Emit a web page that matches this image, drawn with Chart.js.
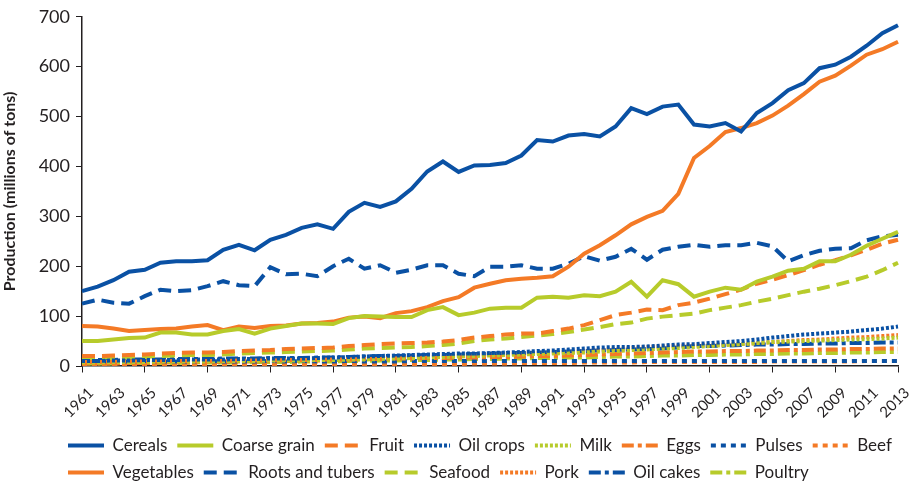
<!DOCTYPE html>
<html>
<head>
<meta charset="utf-8">
<script src="https://cdn.jsdelivr.net/npm/chart.js@4"></script>
<style>
  html, body { margin: 0; padding: 0; background: #fff; }
  #wrap { width: 914px; height: 485px; }
</style>
</head>
<body>
<div id="wrap"><canvas id="prodChart" width="914" height="485"></canvas></div>
<script>
// Años 1961-2013
const years = [];
for (let y = 1961; y <= 2013; y++) years.push(String(y));

const yTicks = [0, 100, 200, 300, 400, 500, 600, 700];

// Valores (millones de toneladas)
const cereals = [150,159,172,189,193,207,210,210,212,233,243,232,253,263,277,284,275,309,327,319,
  330,355,390,410,389,402,403,407,422,453,450,462,465,460,480,517,505,520,524,484,
  480,487,470,507,527,553,567,597,604,620,642,667,683];
const coarseGrain = [50,50,53,56,57,67,67,63,63,70,74,65,75,80,85,85,84,96,100,99,
  98,98,112,118,102,107,115,117,117,137,139,137,142,140,149,169,139,172,164,139,
  149,157,153,169,179,191,195,210,210,223,241,255,269];
const fruit = [20,20,21,22,23,25,26,27,27,28,30,31,32,34,35,36,37,40,42,44,
  45,46,47,49,52,57,60,63,65,65,70,75,82,92,102,107,113,112,122,127,
  135,144,153,165,173,182,192,203,212,222,233,245,253];
const oilCrops = [10,10,11,11,12,12,12,13,13,13,14,14,15,15,15,16,17,18,19,20,
  21,22,23,24,25,25,26,27,28,30,31,33,35,37,38,38,39,41,43,44,
  46,48,50,53,57,60,63,65,67,69,72,75,79];
const milk = [7,7,8,8,8,9,9,9,9,10,10,10,11,11,11,12,12,13,13,14,
  15,16,17,18,19,20,21,22,23,24,25,26,27,29,30,32,33,35,36,38,
  40,42,44,46,48,49,50,51,52,53,54,55,57];
const eggs = [8,8,8,9,9,9,10,10,10,10,11,11,11,12,12,12,13,13,14,14,
  15,15,16,16,17,17,18,18,19,20,20,21,22,23,24,25,26,27,28,29,
  29,30,30,31,31,32,32,33,33,34,34,35,35];
const pulses = [10,10,9,9,10,9,9,9,10,9,9,9,10,9,10,9,9,10,9,9,
  9,10,10,10,10,10,10,10,10,10,10,10,10,10,10,10,10,10,10,10,
  10,10,10,10,10,10,10,10,10,10,10,10,10];
const beef = [2,2,2,2,2,3,3,3,3,3,3,3,3,3,3,3,3,3,3,4,
  4,4,4,4,4,5,5,5,6,6,6,6,7,7,7,7,8,8,8,8,
  8,8,8,8,9,9,9,9,9,9,10,10,10];
const vegetables = [80,79,75,70,72,74,75,79,82,72,79,76,80,81,85,86,89,97,99,96,
  106,110,118,130,138,157,165,172,175,177,180,199,225,242,262,284,299,311,345,417,
  441,469,477,487,502,522,545,570,582,602,624,635,650];
const rootsTubers = [125,133,127,125,140,153,150,152,160,170,162,160,198,184,185,180,200,215,195,202,
  187,193,202,202,185,180,199,199,202,195,195,205,220,211,219,235,213,233,239,243,
  239,242,242,247,240,210,222,231,235,236,252,260,263];
const seafood = [14,15,16,17,18,20,21,22,22,23,25,26,27,28,29,30,31,33,35,36,
  37,38,40,42,45,50,53,55,58,61,64,68,73,78,84,87,95,99,102,105,
  112,117,122,129,135,142,149,155,162,170,179,192,207];
const pork = [5,5,5,6,6,7,7,7,8,8,9,9,10,10,11,11,12,13,14,15,
  16,17,18,19,20,21,23,24,25,26,27,28,30,32,34,36,38,39,40,41,
  42,43,44,46,48,50,52,53,55,57,58,60,62];
const oilCakes = [12,12,12,13,13,13,14,14,14,15,15,15,16,16,16,17,17,18,19,20,
  20,21,22,22,23,24,25,26,26,27,28,29,30,31,32,33,34,35,37,40,
  40,41,42,43,43,44,44,45,45,46,46,47,47];
const poultry = [5,5,5,6,6,6,6,7,7,7,7,8,8,8,9,9,9,10,10,11,
  11,12,12,13,13,14,14,15,15,16,16,17,17,18,19,19,20,21,21,22,
  22,23,23,24,24,25,25,26,26,27,27,28,28];

const BLUE = '#0a51a4';
const GREEN = '#b7cb2b';
const ORANGE = '#f47a26';
const TEXT = '#231f20';

function serie(label, data, color, dash) {
    return {
        label: label,
        data: data,
        borderColor: color,
        backgroundColor: color,
        borderWidth: 4,
        borderDash: dash,
        pointRadius: 0,
        tension: 0,
        fill: false
    };
}

const SOLID = [];
const LONG = [13, 7];
const DOT = [3, 2];
const DASHDOT = [12, 4, 4, 4];
const SHORT = [5, 5];

const datasets = [
    serie('Cereals', cereals, BLUE, SOLID),
    serie('Coarse grain', coarseGrain, GREEN, SOLID),
    serie('Fruit', fruit, ORANGE, LONG),
    serie('Oil crops', oilCrops, BLUE, DOT),
    serie('Milk', milk, GREEN, DOT),
    serie('Eggs', eggs, ORANGE, DASHDOT),
    serie('Pulses', pulses, BLUE, SHORT),
    serie('Beef', beef, ORANGE, SHORT),
    serie('Vegetables', vegetables, ORANGE, SOLID),
    serie('Roots and tubers', rootsTubers, BLUE, LONG),
    serie('Seafood', seafood, GREEN, LONG),
    serie('Pork', pork, ORANGE, DOT),
    serie('Oil cakes', oilCakes, BLUE, DASHDOT),
    serie('Poultry', poultry, GREEN, DASHDOT)
];

// mover la leyenda (derecha y abajo) como en el original
const legendShift = {
    id: 'legendShift',
    afterLayout(chart) {
        chart.legend.left += 58;
        chart.legend.right += 58;
        chart.legend.top += 6;
        chart.legend.bottom += 6;
    }
};

const ctx = document.getElementById('prodChart').getContext('2d');
new Chart(ctx, {
    type: 'line',
    data: { labels: years, datasets: datasets },
    plugins: [legendShift],
    options: {
        responsive: false,
        animation: false,
        layout: { padding: { top: 16, right: 16, left: 0, bottom: 0 } },
        font: { family: 'Lato' },
        plugins: {
            tooltip: { enabled: false },
            legend: {
                position: 'bottom',
                align: 'start',
                labels: {
                    usePointStyle: true,
                    pointStyle: 'line',
                    pointStyleWidth: 36,
                    padding: 10,
                    color: TEXT,
                    font: { family: 'Lato', size: 17 },
                    // la leyenda debe mostrar el trazo de cada serie
                    generateLabels: (chart) => {
                        const items = Chart.defaults.plugins.legend.labels.generateLabels(chart);
                        items.forEach(it => {
                            const ds = chart.data.datasets[it.datasetIndex];
                            it.lineDash = ds.borderDash;
                            it.lineWidth = ds.borderWidth;
                            it.strokeStyle = ds.borderColor;
                        });
                        return items;
                    }
                }
            }
        },
        scales: {
            x: {
                offset: false,
                afterFit: (scale) => { scale.height = 55; },
                grid: {
                    drawOnChartArea: false,
                    drawTicks: true,
                    // marca visible de 6px, el resto deja espacio a las etiquetas
                    tickLength: 16,
                    tickBorderDash: [6, 40],
                    color: TEXT,
                    tickColor: (c) => (c.index % 2 === 0 ? TEXT : 'rgba(0,0,0,0)')
                },
                border: { color: TEXT, width: 1.5 },
                ticks: {
                    autoSkip: false,
                    maxRotation: 45,
                    minRotation: 45,
                    padding: 2,
                    labelOffset: 9,
                    color: TEXT,
                    font: { family: 'Lato', size: 15 },
                    callback: function (value, index) {
                        return index % 2 === 0 ? years[index] : null;
                    }
                }
            },
            y: {
                min: 0,
                max: 700,
                afterFit: (scale) => { scale.width = 82; },
                afterBuildTicks: (scale) => { scale.ticks = yTicks.map(v => ({ value: v })); },
                grid: {
                    drawOnChartArea: false,
                    drawTicks: true,
                    tickLength: 6,
                    color: TEXT
                },
                border: { color: TEXT, width: 1.5 },
                ticks: {
                    padding: 6,
                    color: TEXT,
                    font: { family: 'Lato', size: 18 }
                },
                title: {
                    display: true,
                    text: 'Production (millions of tons)',
                    color: TEXT,
                    font: { family: 'Lato', size: 16, weight: 'bold' },
                    padding: { top: 0, bottom: 4 }
                }
            }
        }
    }
});
</script>
</body>
</html>
